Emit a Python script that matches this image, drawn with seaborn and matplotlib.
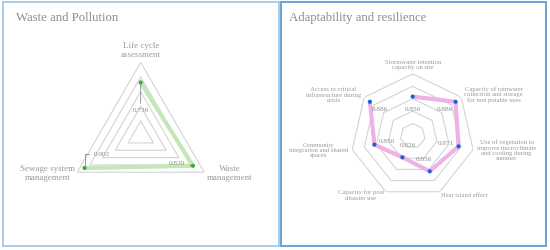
import numpy as np
import pandas as pd
import matplotlib.pyplot as plt
from matplotlib.patches import Rectangle
import seaborn as sns

# data
waste_labels = ["Life cycle\nassessment", "Waste\nmanagement", "Sewage system\nmanagement"]
waste_values = [0.739, 0.839, 0.902]

adapt_labels = ["Stormwater retention\ncapacity on site",
                "Capacity of rainwater\ncollection and storage\nfor non potable uses",
                "Use of vegetation to\nimprove microclimate\nand cooling during\nsummer",
                "Heat island effect",
                "Capacity for post\ndisaster use",
                "Community\nintegration and shared\nspaces",
                "Access to critical\ninfrastructure during\ncrisis"]
adapt_values = [0.856, 0.886, 0.871, 0.856, 0.826, 0.856, 0.886]

sns.set_style("white")
plt.rcParams['font.family'] = ['Liberation Serif', 'DejaVu Serif']

W, H = 550, 250
fig = plt.figure(figsize=(5.5, 2.5), dpi=100)


def px_axes(cx, cy, r):
    # polar axes centred at pixel (cx, cy) (from top-left) with radius r px
    return fig.add_axes([(cx - r) / W, (H - cy - r) / H, 2 * r / W, 2 * r / H], projection='polar')


def radar(ax, labels, values, rmin, rmax, line_col, dot_col, lab_size, lab_pad, lab_spacing):
    n = len(labels)
    theta = np.linspace(0, 2 * np.pi, n, endpoint=False)
    ax.set_theta_zero_location('N')
    ax.set_theta_direction(-1)
    ax.set_ylim(rmin, rmax)
    ax.grid(False)
    ax.spines['polar'].set_visible(False)
    ax.set_xticks([])
    ax.set_yticks([])
    ax.patch.set_alpha(0)

    # polygon rings
    ring_t = np.append(theta, theta[0])
    for k in range(1, 6):
        rr = rmin + (rmax - rmin) * k / 5
        ax.plot(ring_t, [rr] * (n + 1), color='#d4d4d4', lw=0.8, zorder=1)

    df = pd.DataFrame({"theta": np.append(theta, theta[0]),
                       "value": values + values[:1]})
    sns.lineplot(data=df, x="theta", y="value", sort=False, ax=ax,
                 color=line_col, lw=3, zorder=2)
    sns.scatterplot(data=df.iloc[:-1], x="theta", y="value", ax=ax,
                    color=dot_col, s=9, edgecolor='none', zorder=3)
    ax.set_xlabel("")
    ax.set_ylabel("")

    # axis names
    for t, lab in zip(theta, labels):
        s, c = np.sin(t), np.cos(t)
        if abs(s) < 0.1:
            ha = 'center'
        elif s > 0:
            ha = 'left'
        else:
            ha = 'right'
        va = 'bottom' if c > 0.95 else 'center'
        ax.annotate(lab, (t, rmax), xytext=(lab_pad * s, lab_pad * c),
                    textcoords='offset pixels', ha=ha, va=va,
                    multialignment='center', fontsize=lab_size,
                    color='#9a9a9a', linespacing=lab_spacing, annotation_clip=False)
    return theta


# left panel
axL = px_axes(140.7, 135.6, 73.3)
thL = radar(axL, waste_labels, waste_values, 0, 1.02, '#c5e6b7', '#3fae3f', 6.5, 3, 1.15)
left_offsets = [(0, -28), (-16, 2), (17, 14)]
left_conn = ["arc3", "arc3", "angle,angleA=0,angleB=90,rad=0"]
for t, v, off, cs in zip(thL, waste_values, left_offsets, left_conn):
    axL.annotate(f"{v:.3f}", (t, v), xytext=off, textcoords='offset pixels',
                 ha='center', va='center', fontsize=5.2, color='#8a8a8a',
                 arrowprops=dict(arrowstyle='-', color='#888888', lw=0.6,
                                 shrinkA=1, shrinkB=1, connectionstyle=cs))

# right panel
axR = px_axes(412.7, 135.9, 62)
thR = radar(axR, adapt_labels, adapt_values, 0.78, 0.90, '#f0b2e6', '#1e62d0', 4.8, 4, 1.1)
for t, v in zip(thR, adapt_values):
    d = 13
    axR.annotate(f"{v:.3f}", (t, v), xytext=(-d * np.sin(t), -d * np.cos(t)),
                 textcoords='offset pixels', ha='center', va='center',
                 fontsize=5.2, color='#8a8a8a')

# titles
fig.text(15.7 / W, 1 - 17.5 / H, "Waste and Pollution", ha='left', va='center',
         fontsize=9.2, color='#8c8c8c')
fig.text(289 / W, 1 - 18.3 / H, "Adaptability and resilience", ha='left', va='center',
         fontsize=9.2, color='#8c8c8c')

# panel frames
fig.patches.append(Rectangle((3 / W, 1 - 246 / H), 276 / W, 244 / H, transform=fig.transFigure,
                             fill=False, edgecolor='#a3c7ea', lw=1.3))
fig.patches.append(Rectangle((281 / W, 1 - 246 / H), 265 / W, 244 / H, transform=fig.transFigure,
                             fill=False, edgecolor='#5b9bd5', lw=1.3))

fig.savefig("out.png", dpi=100)
